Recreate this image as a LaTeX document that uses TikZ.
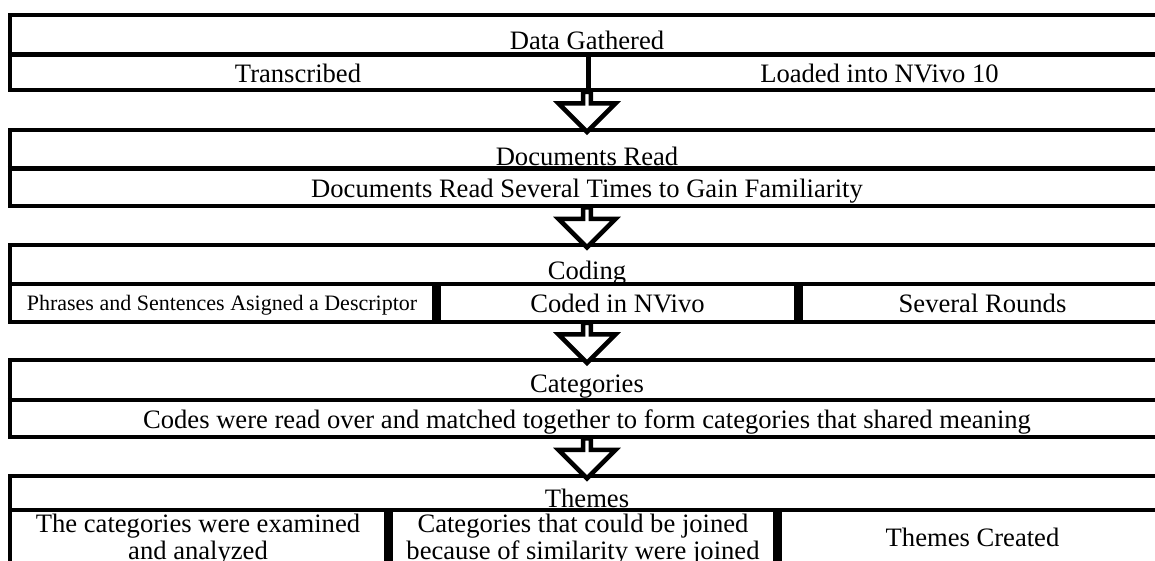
\documentclass[tikz,border=0pt]{standalone}
\usepackage{fontspec}
\setmainfont{Liberation Serif}
\usepackage{tikz}
\usetikzlibrary{positioning, calc}
\usetikzlibrary{shapes.arrows}

\begin{document}
\begin{tikzpicture}[x=1pt, y=-1pt, font=\fontsize{26.6}{26.6}\selectfont, align=center, line width=4.5pt,
        frame/.style={draw, rectangle, minimum width=1154pt, inner sep=0pt},
        cell/.style={rectangle, inner sep=0pt, text depth=0pt},
        boxcell/.style={cell, draw},
        heading/.style={anchor=base, inner sep=0pt},
        flow/.style={single arrow, draw, fill=white, shape border rotate=270, inner sep=0pt,
            minimum height=40pt, minimum width=57pt, single arrow head extend=14.5pt}]
        \useasboundingbox (0,0) rectangle (1155,561);
        \clip (0,0) rectangle (1155,561);

        % Data Gathered
        \node[frame, minimum height=75pt] (gathered) at (587,52.5) {};
        \node[heading] (gatheredhead) at (587,50) {Data Gathered};
        \node[cell, minimum width=576pt, minimum height=33pt, anchor=south west] (transcribed) at (gathered.south west) {Transcribed};
        \node[cell, minimum width=578pt, minimum height=33pt, right=0pt of transcribed] (loaded) {Loaded into NVivo 10};
        \draw (transcribed.north west) -- (loaded.north east);
        \draw (transcribed.north east) -- (transcribed.south east);

        % Documents Read
        \node[frame, minimum height=76pt] (documents) at (587,168) {};
        \node[heading] (documentshead) at (587,166) {Documents Read};
        \node[cell, minimum width=1154pt, minimum height=35pt, anchor=south] (familiarity) at (documents.south) {Documents Read Several Times to Gain Familiarity};
        \draw (familiarity.north west) -- (familiarity.north east);

        % Coding
        \node[frame, minimum height=77pt] (coding) at (587,283.5) {};
        \node[heading] (codinghead) at (587,279) {Coding};
        \node[boxcell, minimum width=424pt, minimum height=38pt, anchor=south west, font=\fontsize{22}{22}\selectfont] (phrases) at (coding.south west) {Phrases and Sentences Asigned a Descriptor};
        \node[boxcell, minimum width=358pt, minimum height=38pt, right=0pt of phrases] (codednvivo) {Coded in NVivo};
        \node[boxcell, minimum width=363pt, minimum height=38pt, right=0pt of codednvivo] (rounds) {Several Rounds};

        % Categories
        \node[frame, minimum height=77pt] (categories) at (587,398.5) {};
        \node[heading] (categorieshead) at (587,392) {Categories};
        \node[cell, minimum width=1154pt, minimum height=35pt, anchor=south] (matched) at (categories.south) {Codes were read over and matched together to form categories that shared meaning};
        \draw (matched.north west) -- (matched.north east);

        % Themes
        \node[frame, minimum height=88pt] (themes) at (587,520) {};
        \node[heading] (themeshead) at (587,507) {Themes};
        \node[boxcell, minimum width=376pt, minimum height=54pt, anchor=south west] (examined) at (themes.south west) {The categories were examined\\and analyzed};
        \node[boxcell, minimum width=385pt, minimum height=54pt, right=0pt of examined] (joined) {Categories that could be joined\\because of similarity were joined};
        \node[boxcell, minimum width=385pt, minimum height=54pt, right=0pt of joined] (created) {Themes Created};

        % Arrows
        \node[flow] (flowone) at ($(gathered.south)!0.5!(documents.north)$) {};
        \node[flow] (flowtwo) at ($(documents.south)!0.5!(coding.north)$) {};
        \node[flow] (flowthree) at ($(coding.south)!0.5!(categories.north)$) {};
        \node[flow] (flowfour) at ($(categories.south)!0.5!(themes.north)$) {};
    \end{tikzpicture}
\end{document}
